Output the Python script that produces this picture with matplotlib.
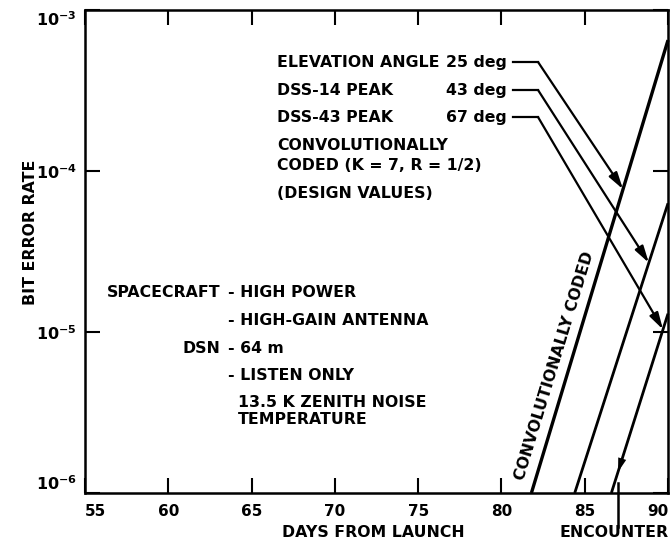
import numpy as np
import matplotlib.pyplot as plt

# curve data (days from launch, bit error rate)
conv_days = [81.8, 90.0]
conv_ber = [1.0e-6, 6.5e-4]
dss14_days = [84.4, 90.0]
dss14_ber = [1.0e-6, 6.3e-5]
dss43_days = [86.6, 90.0]
dss43_ber = [1.0e-6, 1.3e-5]

# where the leader arrows hit each curve
tip_days = [87.3, 88.85, 89.7]
knee_ber = [4.75e-4, 3.18e-4, 2.16e-4]
leader_start = 80.7
leader_knee = 82.2

encounter_day = 87.0

x_ticks = [55, 60, 65, 70, 75, 80, 85, 90]
y_ticks = [1e-6, 1e-5, 1e-4, 1e-3]
y_labels = ['$10^{-6}$', '$10^{-5}$', '$10^{-4}$', '$10^{-3}$']

plt.rcParams['font.family'] = ['DejaVu Sans']
plt.rcParams['font.weight'] = 'bold'
plt.rcParams['mathtext.default'] = 'bf'
fig = plt.figure(figsize=(6.7, 5.45), dpi=100)
ax = fig.add_axes([85/670, 52/545, 583/670, 483/545])

fs = 11.3
ax.set_yscale('log')
ax.set_xlim(55, 90)
ax.set_ylim(1e-6, 1e-3)

curves = [(conv_days, conv_ber, 2.4), (dss14_days, dss14_ber, 2.0), (dss43_days, dss43_ber, 2.0)]
for d, b, lw in curves:
    ax.plot(d, b, color='black', lw=lw, solid_capstyle='butt', clip_on=False)

# leader lines with arrows
for i, (d, b, _) in enumerate(curves):
    td = tip_days[i]
    tb = 10 ** np.interp(td, d, np.log10(b))
    ax.plot([leader_start, leader_knee], [knee_ber[i], knee_ber[i]], color='black', lw=1.6)
    ax.annotate('', xy=(td, tb), xytext=(leader_knee, knee_ber[i]),
                arrowprops=dict(arrowstyle='-|>,head_length=1.0,head_width=0.28',
                                color='black', lw=1.6, shrinkA=0, shrinkB=0))

# small arrowhead on the 67 deg curve at encounter
d, b = dss43_days, dss43_ber
a_hi = 10 ** np.interp(encounter_day + 0.35, d, np.log10(b))
a_lo = 10 ** np.interp(encounter_day, d, np.log10(b))
ax.annotate('', xy=(encounter_day, a_lo), xytext=(encounter_day + 0.35, a_hi),
            arrowprops=dict(arrowstyle='-|>,head_length=1.0,head_width=0.3',
                            color='black', lw=0, shrinkA=0, shrinkB=0))

ax.set_xticks(x_ticks)
ax.set_xticklabels([str(v) for v in x_ticks], fontsize=11)
ax.set_yticks(y_ticks)
ax.set_yticklabels(y_labels, fontsize=11.5)
ax.minorticks_off()
ax.tick_params(direction='in', length=11, width=1.5, top=True, right=True, pad=8)
ax.tick_params(axis='y', pad=6)
lbls = ax.get_xticklabels()
lbls[0].set_ha('left')
lbls[-1].set_ha('right')
ylb = ax.get_yticklabels()
ylb[0].set_va('bottom')
ylb[-1].set_va('top')
for s in ax.spines.values():
    s.set_linewidth(1.8)

# encounter marker below the axis
ax.plot([encounter_day, encounter_day], [0.02, -0.07], color='black', lw=1.8,
        transform=ax.get_xaxis_transform(), clip_on=False)
ax.text(86.75, -0.081, 'ENCOUNTER', transform=ax.get_xaxis_transform(),
        ha='center', va='center', fontsize=fs)

ax.text(0.494, -0.081, 'DAYS FROM LAUNCH', transform=ax.transAxes,
        ha='center', va='center', fontsize=fs)
ax.text(-0.094, 0.54, 'BIT ERROR RATE', transform=ax.transAxes, rotation=90,
        ha='center', va='center', fontsize=fs)

# legend-like notes, top right
t = ax.transAxes
ax.text(0.329, 0.892, 'ELEVATION ANGLE', transform=t, va='center', fontsize=fs)
ax.text(0.329, 0.834, 'DSS-14 PEAK', transform=t, va='center', fontsize=fs)
ax.text(0.329, 0.778, 'DSS-43 PEAK', transform=t, va='center', fontsize=fs)
for yy, s in zip([0.892, 0.834, 0.778], ['25 deg', '43 deg', '67 deg']):
    ax.text(0.724, yy, s, transform=t, ha='right', va='center', fontsize=fs)
ax.text(0.329, 0.720, 'CONVOLUTIONALLY', transform=t, va='center', fontsize=fs)
ax.text(0.329, 0.679, 'CODED (K = 7, R = 1/2)', transform=t, va='center', fontsize=fs)
ax.text(0.329, 0.621, '(DESIGN VALUES)', transform=t, va='center', fontsize=fs)

# link conditions, left
ax.text(0.2316, 0.416, 'SPACECRAFT', transform=t, ha='right', va='center', fontsize=fs)
ax.text(0.245, 0.416, '- HIGH POWER', transform=t, va='center', fontsize=fs)
ax.text(0.245, 0.358, '- HIGH-GAIN ANTENNA', transform=t, va='center', fontsize=fs)
ax.text(0.2316, 0.300, 'DSN', transform=t, ha='right', va='center', fontsize=fs)
ax.text(0.245, 0.300, '- 64 m', transform=t, va='center', fontsize=fs)
ax.text(0.245, 0.244, '- LISTEN ONLY', transform=t, va='center', fontsize=fs)
ax.text(0.262, 0.188, '13.5 K ZENITH NOISE', transform=t, va='center', fontsize=fs)
ax.text(0.262, 0.153, 'TEMPERATURE', transform=t, va='center', fontsize=fs)

ax.text(83.2, 6.2e-6, 'CONVOLUTIONALLY CODED', rotation=73, ha='center', va='center',
        fontsize=fs, rotation_mode='anchor')

fig.savefig('out.png', dpi=100)
